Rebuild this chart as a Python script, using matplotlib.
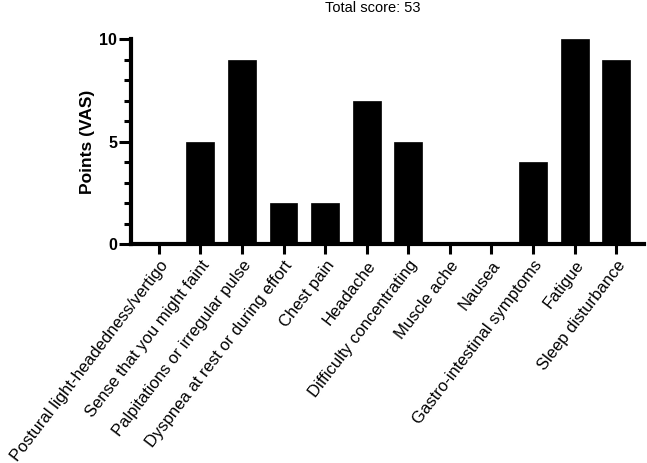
# Symptom scores bar chart (VAS points per symptom)

import numpy as np
import matplotlib
matplotlib.use("Agg")
import matplotlib.pyplot as plt
from matplotlib.ticker import MultipleLocator

plt.rcParams['font.family'] = ['Liberation Sans', 'DejaVu Sans']

symptoms = [
    "Postural light-headedness/vertigo",
    "Sense that you might faint",
    "Palpitations or irregular pulse",
    "Dyspnea at rest or during effort",
    "Chest pain",
    "Headache",
    "Difficulty concentrating",
    "Muscle ache",
    "Nausea",
    "Gastro-intestinal symptoms",
    "Fatigue",
    "Sleep disturbance",
]
points = [0, 5, 9, 2, 2, 7, 5, 0, 0, 4, 10, 9]
yticks = [0, 5, 10]

fig = plt.figure(figsize=(6.47, 4.63), dpi=100)
ax = fig.add_axes([131/647, 1 - 244/463, 513/647, 205/463])

x = np.arange(len(symptoms))
ax.bar(x, points, width=0.67, color='black', edgecolor='black', linewidth=0.5)

ax.set_xlim(-0.67, len(symptoms) - 1 + 0.67)
ax.set_ylim(0, 10)
ax.set_yticks(yticks)
ax.yaxis.set_minor_locator(MultipleLocator(1))
ax.set_yticklabels([str(v) for v in yticks], fontweight='bold', fontsize=11.5)
ax.set_xticks(x)
ax.set_xticklabels(symptoms, rotation=52.5, ha='right', va='top',
                   rotation_mode='anchor', fontsize=12)

for s in ['top', 'right']:
    ax.spines[s].set_visible(False)
for s in ['left', 'bottom']:
    ax.spines[s].set_linewidth(3)

ax.tick_params(axis='y', which='major', length=9, width=2.2, pad=1)
ax.tick_params(axis='y', which='minor', length=5, width=2.2)
ax.tick_params(axis='x', which='major', length=7, width=2.2, pad=3)

ax.set_ylabel("Points (VAS)", fontweight='bold', fontsize=12.5)
ax.yaxis.set_label_coords(-0.07, 0.5)

fig.text(373/647, 1 - 8/463, "Total score: 53", ha='center', va='center', fontsize=10.5)

fig.savefig("out.png", dpi=100)
